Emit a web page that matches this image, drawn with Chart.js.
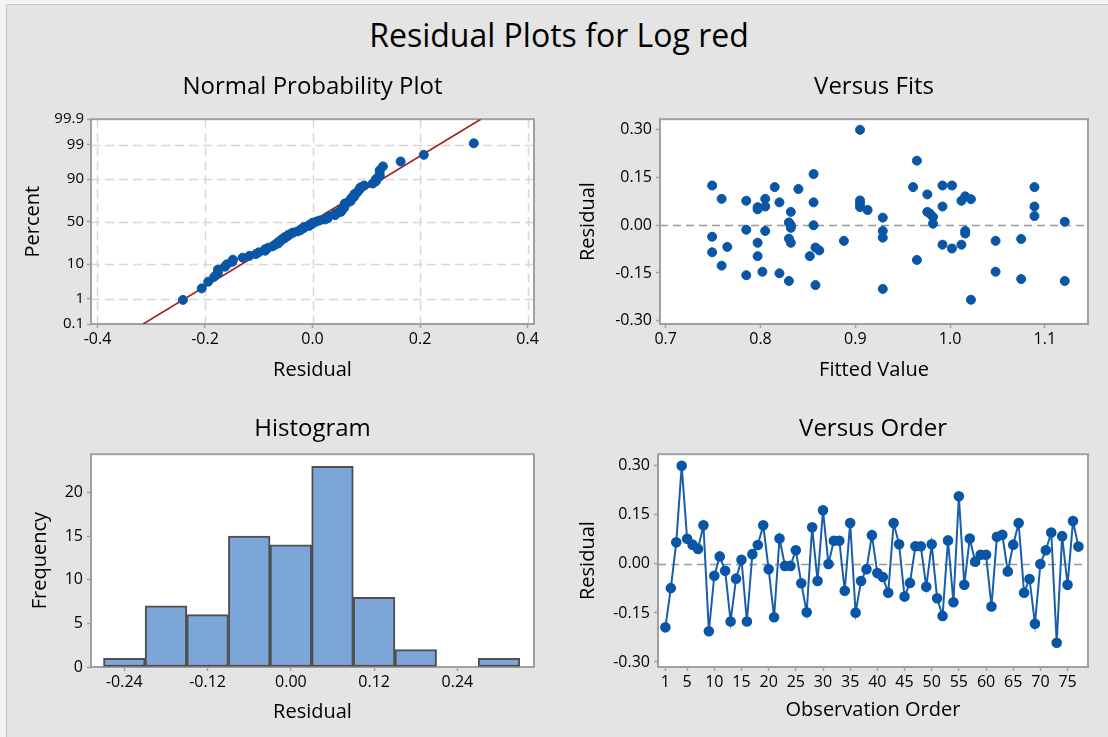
<!DOCTYPE html>
<html>
<head>
<meta charset="utf-8">
<script src="https://cdn.jsdelivr.net/npm/chart.js@4.4.1/dist/chart.umd.min.js"></script>
<style>
html, body { margin: 0; padding: 0; background: #f3f3f3; overflow: hidden; width: 1108px; height: 737px; }
#page { position: absolute; left: 6px; top: 4px; width: 1120px; height: 750px; background: #e4e4e4; border: 1px solid #c6c6c6; }
#title { position: absolute; left: 5px; top: 14px; width: 1108px; text-align: center; font: 32px 'Open Sans', sans-serif; line-height: 42px; color: #000; }
canvas { position: absolute; }
</style>
</head>
<body>
<div id="page"></div>
<div id="title">Residual Plots for Log red</div>
<canvas id="npp" width="554" height="330" style="left:0;top:60px"></canvas>
<canvas id="fits" width="554" height="330" style="left:554px;top:60px"></canvas>
<canvas id="hist" width="554" height="347" style="left:0;top:390px"></canvas>
<canvas id="order" width="554" height="347" style="left:554px;top:390px"></canvas>
<script>
// residuals in observation order (read from Versus Order)
const orderResiduals = [
  -0.194, -0.074, 0.066, 0.300, 0.077, 0.059, 0.046, 0.118, -0.206, -0.036,
  0.023, -0.021, -0.176, -0.045, 0.013, -0.176, 0.030, 0.058, 0.118, -0.016,
  -0.163, 0.078, -0.006, -0.006, 0.042, -0.059, -0.148, 0.112, -0.052, 0.164,
  0.000, 0.071, 0.071, -0.082, 0.125, -0.149, -0.052, -0.016, 0.088, -0.028,
  -0.040, -0.088, 0.125, 0.060, -0.100, -0.058, 0.054, 0.054, -0.070, 0.060,
  -0.105, -0.159, 0.072, -0.117, 0.207, -0.064, 0.078, 0.007, 0.028, 0.028,
  -0.130, 0.083, 0.089, -0.023, 0.059, 0.125, -0.088, -0.046, -0.183, 0.000,
  0.042, 0.096, -0.241, 0.085, -0.064, 0.131, 0.053
];

// versus fits points
const fitsX = [0.749, 0.749, 0.749, 0.759, 0.759, 0.765, 0.785, 0.785, 0.785, 0.797,
  0.797, 0.797, 0.797, 0.802, 0.805, 0.805, 0.805, 0.815, 0.820, 0.820,
  0.830, 0.832, 0.832, 0.832, 0.830, 0.832, 0.830, 0.840, 0.852, 0.856,
  0.856, 0.856, 0.858, 0.862, 0.858, 0.888, 0.905, 0.905, 0.905, 0.905,
  0.913, 0.929, 0.929, 0.929, 0.929, 0.961, 0.965, 0.965, 0.976, 0.976,
  0.979, 0.982, 0.982, 0.992, 0.992, 0.992, 1.002, 1.002, 1.012, 1.012,
  1.016, 1.016, 1.016, 1.022, 1.022, 1.048, 1.048, 1.075, 1.075, 1.089,
  1.089, 1.089, 1.121, 1.121];
const fitsY = [0.125, -0.036, -0.085, 0.083, -0.127, -0.068, 0.077, -0.014, -0.157, 0.050,
  0.057, -0.055, -0.097, -0.146, 0.083, 0.059, -0.018, 0.120, 0.072, -0.151,
  0.009, 0.042, 0.000, -0.008, -0.042, -0.055, -0.175, 0.114, -0.097, 0.161,
  0.072, 0.000, -0.070, -0.079, -0.188, -0.049, 0.300, 0.078, 0.068, 0.057,
  0.048, 0.024, -0.018, -0.039, -0.200, 0.120, 0.203, -0.109, 0.097, 0.042,
  0.036, 0.026, 0.005, 0.125, 0.059, -0.061, 0.125, -0.073, 0.077, -0.061,
  0.091, -0.018, -0.026, 0.082, -0.234, -0.049, -0.146, -0.043, -0.169, 0.120,
  0.059, 0.029, 0.011, -0.175];

// histogram
const histBins = [-0.24, -0.18, -0.12, -0.06, 0.00, 0.06, 0.12, 0.18, 0.24, 0.30];
const histCounts = [1, 7, 6, 15, 14, 23, 8, 2, 0, 1];

// tick labels
const nppPercentTicks = ['0.1', '1', '10', '50', '90', '99', '99.9'];
const nppResidTicks = [-0.4, -0.2, 0.0, 0.2, 0.4];
const residTicks = [-0.30, -0.15, 0.00, 0.15, 0.30];
const fitTicks = [0.7, 0.8, 0.9, 1.0, 1.1];
const histXTicks = [-0.24, -0.12, 0.00, 0.12, 0.24];
const histYTicks = [0, 5, 10, 15, 20];
const orderTicks = [1, 5, 10, 15, 20, 25, 30, 35, 40, 45, 50, 55, 60, 65, 70, 75];

// fitted normal line (ends)
const fitLineResidual = [-0.315, 0.313];
const fitLinePercent = [0.1, 99.9];

const BLUE = '#0a56a6';
const FONT = "'Open Sans', sans-serif";
Chart.defaults.font.family = FONT;
Chart.defaults.color = '#000';
Chart.defaults.animation = false;

function normInv(p) {
  const a = [-3.969683028665376e+01, 2.209460984245205e+02, -2.759285104469687e+02, 1.383577518672690e+02, -3.066479806614716e+01, 2.506628277459239e+00];
  const b = [-5.447609879822406e+01, 1.615858368580409e+02, -1.556989798598866e+02, 6.680131188771972e+01, -1.328068155288572e+01];
  const c = [-7.784894002430293e-03, -3.223964580411365e-01, -2.400758277161838e+00, -2.549732539343734e+00, 4.374664141464968e+00, 2.938163982698783e+00];
  const d = [7.784695709041462e-03, 3.224671290700398e-01, 2.445134137142996e+00, 3.754408661907416e+00];
  const pl = 0.02425;
  let q, r;
  if (p < pl) {
    q = Math.sqrt(-2 * Math.log(p));
    return (((((c[0]*q+c[1])*q+c[2])*q+c[3])*q+c[4])*q+c[5]) / ((((d[0]*q+d[1])*q+d[2])*q+d[3])*q+1);
  }
  if (p <= 1 - pl) {
    q = p - 0.5; r = q * q;
    return (((((a[0]*r+a[1])*r+a[2])*r+a[3])*r+a[4])*r+a[5])*q / (((((b[0]*r+b[1])*r+b[2])*r+b[3])*r+b[4])*r+1);
  }
  q = Math.sqrt(-2 * Math.log(1 - p));
  return -(((((c[0]*q+c[1])*q+c[2])*q+c[3])*q+c[4])*q+c[5]) / ((((d[0]*q+d[1])*q+d[2])*q+d[3])*q+1);
}

// normal probability points: sorted residuals against median ranks
const sortedResid = orderResiduals.slice().sort((a, b) => a - b);
const nppPoints = sortedResid.map((r, i) => ({ x: r, y: normInv((i + 1 - 0.3) / (sortedResid.length + 0.4)) }));

// plot background, dashed grid, zero line and frame
const panelPlugin = {
  id: 'panel',
  beforeDraw(chart) {
    const { ctx, chartArea: a } = chart;
    ctx.save();
    ctx.fillStyle = '#ffffff';
    ctx.fillRect(a.left, a.top, a.width, a.height);
    ctx.restore();
  },
  beforeDatasetsDraw(chart, args, opts) {
    const { ctx, chartArea: a, scales } = chart;
    ctx.save();
    if (opts.grid) {
      ctx.strokeStyle = '#d8d8d8';
      ctx.lineWidth = 1.5;
      ctx.setLineDash([9, 5]);
      scales.x.ticks.forEach(t => {
        const px = Math.round(scales.x.getPixelForValue(t.value)) + 0.5;
        if (px <= a.left + 2 || px >= a.right - 2) return;
        ctx.beginPath(); ctx.moveTo(px, a.top); ctx.lineTo(px, a.bottom); ctx.stroke();
      });
      scales.y.ticks.forEach(t => {
        const py = Math.round(scales.y.getPixelForValue(t.value)) + 0.5;
        if (py <= a.top + 2 || py >= a.bottom - 2) return;
        ctx.beginPath(); ctx.moveTo(a.left, py); ctx.lineTo(a.right, py); ctx.stroke();
      });
    }
    if (opts.zero) {
      const py = Math.round(scales.y.getPixelForValue(0)) + 0.5;
      ctx.strokeStyle = '#999999';
      ctx.lineWidth = 1.5;
      ctx.setLineDash([8, 5]);
      ctx.beginPath(); ctx.moveTo(a.left, py); ctx.lineTo(a.right, py); ctx.stroke();
    }
    ctx.setLineDash([]);
    ctx.strokeStyle = '#a0a0a0';
    ctx.lineWidth = 2;
    ctx.strokeRect(a.left, a.top, a.width, a.height);
    ctx.restore();
  }
};
Chart.register(panelPlugin);

function axis(opts) {
  return Object.assign({
    type: 'linear',
    border: { display: false },
    grid: { drawOnChartArea: false, drawTicks: true, tickLength: 4, tickColor: '#a0a0a0', tickWidth: 1.5 }
  }, opts);
}

function tickOpts(extra) {
  return Object.assign({ font: { size: 16 }, color: '#000', padding: 3, autoSkip: false, maxRotation: 0 }, extra);
}

function setTicks(values) {
  return scale => { scale.ticks = values.map(v => ({ value: v })); };
}

function titleOpts(text, top, bottom) {
  return { display: true, text: text, fullSize: false, font: { size: 24, weight: 'normal' }, color: '#000', padding: { top: top, bottom: bottom } };
}

function axisTitle(text, pad) {
  return { display: true, text: text, font: { size: 20 }, color: '#000', padding: pad };
}

// Normal Probability Plot
new Chart(document.getElementById('npp'), {
  type: 'scatter',
  data: {
    datasets: [{
      data: nppPoints,
      backgroundColor: BLUE, borderColor: BLUE, pointRadius: 4.5, order: 1
    }, {
      type: 'line',
      data: fitLineResidual.map((x, i) => ({ x: x, y: normInv(fitLinePercent[i] / 100) })),
      borderColor: '#a32020', borderWidth: 1.6, pointRadius: 0, order: 2
    }]
  },
  options: {
    responsive: false,
    layout: { padding: { left: 0, right: 20, top: 0, bottom: 6 } },
    plugins: { legend: { display: false }, tooltip: { enabled: false }, title: titleOpts('Normal Probability Plot', 12.6, 17.8), panel: { grid: true } },
    scales: {
      x: axis({ min: -0.412, max: 0.412, afterBuildTicks: setTicks(nppResidTicks), afterFit: s => { s.height = 60; },
        ticks: tickOpts({ padding: 2, callback: v => v.toFixed(1) }),
        title: axisTitle('Residual', { top: 0, bottom: 2 }) }),
      y: axis({ min: normInv(0.001), max: normInv(0.999),
        afterBuildTicks: s => { s.ticks = nppPercentTicks.map(l => ({ value: normInv(parseFloat(l) / 100) })); },
        afterFit: s => { s.width = 91; },
        ticks: tickOpts({ font: { size: 15 }, callback: (v, i) => nppPercentTicks[i] }),
        title: axisTitle('Percent', { top: 21, bottom: 0 }) })
    }
  }
});

// Versus Fits
new Chart(document.getElementById('fits'), {
  type: 'scatter',
  data: {
    datasets: [{
      data: fitsX.map((x, i) => ({ x: x, y: fitsY[i] })),
      backgroundColor: BLUE, borderColor: BLUE, pointRadius: 4.5
    }]
  },
  options: {
    responsive: false,
    layout: { padding: { left: 0, right: 20, top: 0, bottom: 6 } },
    plugins: { legend: { display: false }, tooltip: { enabled: false }, title: titleOpts('Versus Fits', 12.6, 17.8), panel: { zero: true } },
    scales: {
      x: axis({ min: 0.694, max: 1.1455, afterBuildTicks: setTicks(fitTicks), afterFit: s => { s.height = 60; },
        ticks: tickOpts({ padding: 2, callback: v => v.toFixed(1) }),
        title: axisTitle('Fitted Value', { top: 0, bottom: 2 }) }),
      y: axis({ min: -0.3103, max: 0.3334, afterBuildTicks: setTicks(residTicks), afterFit: s => { s.width = 106; },
        ticks: tickOpts({ padding: 4, callback: v => v.toFixed(2) }),
        title: axisTitle('Residual', { top: 22, bottom: 0 }) })
    }
  }
});

// Histogram
new Chart(document.getElementById('hist'), {
  type: 'bar',
  data: {
    datasets: [{
      data: histBins.map((b, i) => ({ x: b, y: histCounts[i] })),
      backgroundColor: '#7ca6d8', borderColor: '#505050', borderWidth: 2, borderSkipped: false,
      barPercentage: 1, categoryPercentage: 1
    }]
  },
  options: {
    responsive: false,
    layout: { padding: { left: 0, right: 20, top: 0, bottom: 10 } },
    plugins: { legend: { display: false }, tooltip: { enabled: false }, title: titleOpts('Histogram', 24.6, 10.8), panel: {} },
    scales: {
      x: axis({ offset: false, min: -0.288, max: 0.3504, afterBuildTicks: setTicks(histXTicks), afterFit: s => { s.height = 60; },
        grid: { offset: false, drawOnChartArea: false, drawTicks: true, tickLength: 4, tickColor: '#a0a0a0', tickWidth: 1.5 },
        ticks: tickOpts({ padding: 2, callback: v => v.toFixed(2) }),
        title: axisTitle('Residual', { top: 0, bottom: 3 }) }),
      y: axis({ min: 0, max: 24.4, afterBuildTicks: setTicks(histYTicks), afterFit: s => { s.width = 91; },
        ticks: tickOpts({ padding: 4 }),
        title: axisTitle('Frequency', { top: 28, bottom: 0 }) })
    }
  }
});

// Versus Order
new Chart(document.getElementById('order'), {
  type: 'line',
  data: {
    datasets: [{
      data: orderResiduals.map((v, i) => ({ x: i + 1, y: v })),
      borderColor: '#1a5eab', borderWidth: 2, backgroundColor: BLUE,
      pointBackgroundColor: BLUE, pointBorderColor: BLUE, pointRadius: 4.3, tension: 0
    }]
  },
  options: {
    responsive: false,
    layout: { padding: { left: 0, right: 20, top: 0, bottom: 10 } },
    plugins: { legend: { display: false }, tooltip: { enabled: false }, title: titleOpts('Versus Order', 24.6, 10.8), panel: { zero: true } },
    scales: {
      x: axis({ min: -0.36, max: 78.76, afterBuildTicks: setTicks(orderTicks), afterFit: s => { s.height = 60; },
        ticks: tickOpts({ padding: 2 }),
        title: axisTitle('Observation Order', { top: 0, bottom: 5 }) }),
      y: axis({ min: -0.3153, max: 0.3357, afterBuildTicks: setTicks(residTicks), afterFit: s => { s.width = 104; },
        ticks: tickOpts({ padding: 4, callback: v => v.toFixed(2) }),
        title: axisTitle('Residual', { top: 22, bottom: 0 }) })
    }
  }
});
</script>
</body>
</html>
